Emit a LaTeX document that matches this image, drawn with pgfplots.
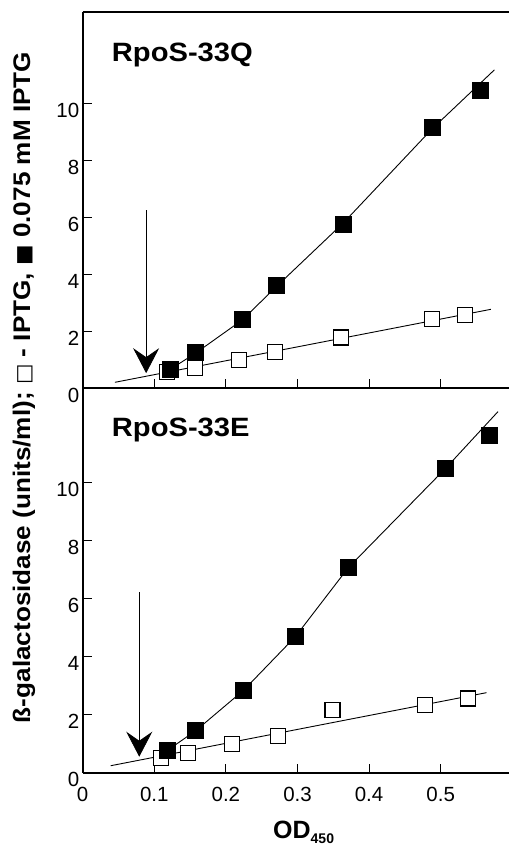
\documentclass[border=0pt]{standalone}
\usepackage{fontspec}
\setmainfont{Liberation Sans}
\newfontfamily\symfont{DejaVu Sans}
\usepackage{graphicx}
\usepackage{pgfplots}
\pgfplotsset{compat=1.18}
\usetikzlibrary{arrows.meta}

\pgfplotsset{
  odpanel/.style={
    scale only axis,
    width=426.3pt,
    xmin=0, xmax=0.5954,
    ymin=0,
    axis lines*=left,
    axis line style={line width=1.8pt},
    tick align=inside,
    major tick length=9pt,
    tick style={line width=0.9pt, black},
    xtick={0,0.1,0.2,0.3,0.4,0.5},
    ytick={0,2,4,6,8,10},
    tick label style={font=\fontsize{20.5}{20.5}\selectfont},
    /pgf/number format/assume math mode=true,
    yticklabel style={yshift=-7pt},
    xticklabel style={yshift=-11pt},
    clip=false,
  },
  fitline/.style={black, line width=0.9pt, no marks},
  openpt/.style={only marks, mark=square*, mark size=7.5pt,
    mark options={fill=white, draw=black, line width=1.2pt}},
  fullpt/.style={only marks, mark=square*, mark size=8pt,
    mark options={fill=black, draw=black, line width=1pt}},
}

\begin{document}
\begin{tikzpicture}
\path[use as bounding box] (-82.7pt,-72.3pt) rectangle (426.3pt,772.7pt);

% lower panel: RpoS-33E
\begin{axis}[odpanel, height=384.4pt, ymax=13.255,
  at={(0pt,0pt)}, anchor=south west,
  xticklabels={0,0.1,0.2,0.3,0.4,0.5}]
\addplot[fitline] coordinates {(0.039,0.24) (0.564,2.76)};
\addplot[fitline] coordinates {
  (0.120,0.80) (0.158,1.45) (0.225,2.85) (0.297,4.69) (0.371,7.07) (0.507,10.50) (0.580,12.45)};
\addplot[openpt] coordinates {
  (0.109,0.50) (0.147,0.67) (0.209,0.99) (0.273,1.27) (0.349,2.16) (0.478,2.33) (0.538,2.56)};
\addplot[fullpt] coordinates {
  (0.118,0.75) (0.158,1.45) (0.225,2.85) (0.297,4.69) (0.371,7.07) (0.507,10.50) (0.568,11.62)};
\draw[line width=0.8pt, -{Stealth[length=25pt, width=26pt, inset=9pt]}]
  (axis cs:0.079,6.22) -- (axis cs:0.079,0.55);
\end{axis}

% upper panel: RpoS-33Q
\begin{axis}[odpanel, height=376pt, ymax=13.19,
  at={(0pt,384.4pt)}, anchor=south west,
  xticklabels={}]
\addplot[fitline] coordinates {(0.045,0.21) (0.570,2.77)};
\addplot[fitline] coordinates {
  (0.118,0.60) (0.157,1.22) (0.223,2.40) (0.271,3.58) (0.364,5.80) (0.488,9.10) (0.575,11.17)};
\addplot[openpt] coordinates {
  (0.118,0.58) (0.157,0.70) (0.218,0.99) (0.269,1.26) (0.361,1.78) (0.488,2.42) (0.534,2.57)};
\addplot[fullpt] coordinates {
  (0.122,0.67) (0.157,1.26) (0.223,2.40) (0.271,3.60) (0.364,5.76) (0.488,9.14) (0.555,10.43)};
\draw[line width=0.8pt, -{Stealth[length=25pt, width=26pt, inset=9pt]}]
  (axis cs:0.0886,6.25) -- (axis cs:0.0886,0.53);
\draw[line width=1.8pt] (rel axis cs:0,1) -- (rel axis cs:1,1);
\end{axis}

\node[anchor=base west, inner sep=0pt] at (29pt,711pt)
  {\scalebox{1.1}[1]{\fontsize{26.5}{26.5}\selectfont\bfseries RpoS-33Q}};
\node[anchor=base west, inner sep=0pt] at (29pt,336pt)
  {\scalebox{1.1}[1]{\fontsize{26.5}{26.5}\selectfont\bfseries RpoS-33E}};
\node[anchor=base west, inner sep=0pt] at (190.3pt,-65.3pt)
  {\fontsize{25}{25}\selectfont\bfseries OD\raisebox{-5pt}{\fontsize{14}{14}\selectfont\bfseries 450}};
\node[rotate=90, inner sep=0pt] at (-58.7pt,385.2pt)
  {\resizebox{671pt}{\height}{\fontsize{24}{24}\selectfont\bfseries
   ß-galactosidase (units/ml); {\fontsize{20}{20}\symfont □} - IPTG, {\fontsize{20}{20}\symfont ■} 0.075 mM IPTG}};
\end{tikzpicture}
\end{document}
